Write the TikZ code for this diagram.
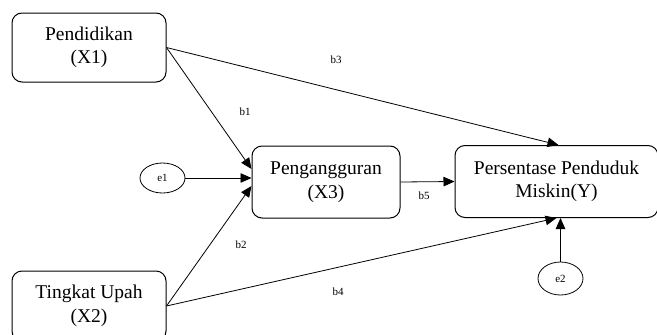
\documentclass[tikz,border=0pt]{standalone}
\usepackage{fontspec}
\setmainfont{Liberation Serif}
\usetikzlibrary{arrows.meta,shapes.geometric}

\begin{document}
\begin{tikzpicture}[x=1pt, y=-1pt,
    var/.style={draw, line width=1pt, rounded corners=10pt, align=center,
      font=\fontsize{19.5}{23.5}\selectfont, inner sep=0pt},
    err/.style={draw, ellipse, line width=0.8pt, minimum width=45pt, inner sep=0pt,
      font=\fontsize{11}{13}\selectfont},
    coef/.style={font=\fontsize{11}{13}\selectfont},
    path/.style={line width=0.8pt, -{Triangle[length=11pt,width=9.5pt]}}]
          \useasboundingbox (0, 0) rectangle (657, 335);

          \node [var, minimum width=154pt, minimum height=69pt] (x1) at (89, 47.5) {Pendidikan\\(X1)};
          \node [var, minimum width=154pt, minimum height=70pt] (x2) at (89, 306) {Tingkat Upah\\(X2)};
          \node [var, minimum width=148pt, minimum height=72pt] (x3) at (326, 182) {Pengangguran\\(X3)};
          \node [var, minimum width=203pt, minimum height=72pt] (y) at (556.5, 181.5) {Persentase Penduduk\\Miskin(Y)};

          \node [err, minimum height=30pt] (e1) at (162.5, 178) {e1};
          \node [err, minimum height=33pt] (e2) at (560.5, 278.5) {e2};

          \draw [path] (x1.east) -- ([yshift=13pt]x3.west);
          \draw [path] (e1.east) -- (x3.west |- e1.east);
          \draw [path] (x2.east) -- ([yshift=-4pt]x3.west);
          \draw [path] (x1.east) -- ([xshift=2pt]y.north);
          \draw [path] (x2.east) -- (y.south);
          \draw [path] (x3.east) -- (y.west);
          \draw [path] (e2.north) -- (y.south -| e2.north);

          \node [coef] (b1) at (245, 112) {b1};
          \node [coef] (b2) at (241, 245) {b2};
          \node [coef] (b3) at (336, 60) {b3};
          \node [coef] (b4) at (338, 292) {b4};
          \node [coef] (b5) at (424, 196) {b5};
        \end{tikzpicture}
\end{document}
